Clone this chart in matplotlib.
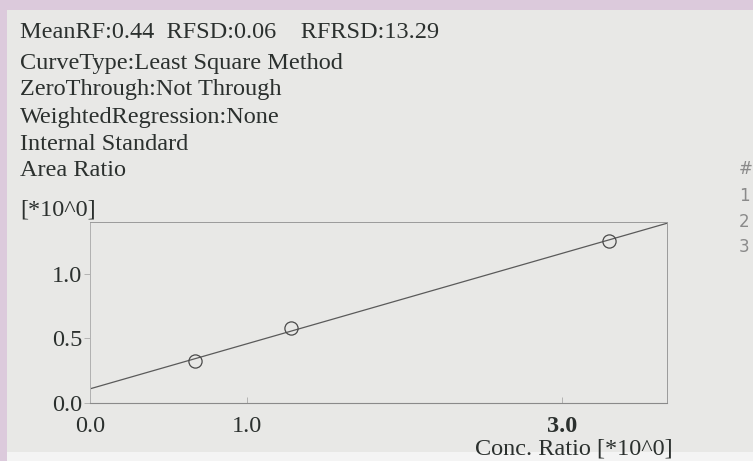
import numpy as np
import matplotlib
matplotlib.use("Agg")
import matplotlib.pyplot as plt
from matplotlib.patches import Rectangle

# ---- data ----
conc_ratio = [0.67, 1.28, 3.30]
area_ratio = [0.326, 0.579, 1.256]
x_ticks = [0.0, 1.0, 3.0]
x_tick_labels = ["0.0", "1.0", "3.0"]
y_ticks = [0.0, 0.5, 1.0]
y_tick_labels = ["0.0", "0.5", "1.0"]
header_lines = [
    "MeanRF:0.44  RFSD:0.06    RFRSD:13.29",
    "CurveType:Least Square Method",
    "ZeroThrough:Not Through",
    "WeightedRegression:None",
    "Internal Standard",
    "Area Ratio",
]
side_labels = ["#", "1", "2", "3"]

W, H = 753, 461
fig = plt.figure(figsize=(W / 100, H / 100), dpi=100)
fig.patch.set_facecolor("#dccadc")

def px(x, y):
    return x / W, 1 - y / H

# paper
fig.patches.append(Rectangle(px(7, 452), (W - 7) / W, (452 - 10) / H,
                             transform=fig.transFigure, facecolor="#e8e8e6",
                             edgecolor="none", zorder=-2))
fig.patches.append(Rectangle(px(7, 461), (W - 7) / W, 9 / H,
                             transform=fig.transFigure, facecolor="#f4f4f4",
                             edgecolor="none", zorder=-2))

serif = "Liberation Serif"
tcol = "#2b302e"
fs = 17.5

ax = fig.add_axes([90 / W, 1 - 403 / H, (667 - 90) / W, (403 - 222) / H])
ax.set_zorder(1)
ax.set_facecolor("none")
ax.set_xlim(0, 3.67)
ax.set_ylim(0, 1.40)

slope, intercept = np.polyfit(conc_ratio, area_ratio, 1)
xs = np.array([0.0, 3.67])
ax.plot(xs, intercept + slope * xs, color="#5a5a5a", lw=0.9, zorder=2)
ax.plot(conc_ratio, area_ratio, linestyle="none", marker="o", markersize=9.5,
        markerfacecolor="none", markeredgecolor="#4a4a4a", markeredgewidth=0.9, zorder=3)

for side in ["top", "right"]:
    ax.spines[side].set_color("#9a9a9a")
    ax.spines[side].set_linestyle((0, (3, 1)))
    ax.spines[side].set_linewidth(0.7)
ax.spines["left"].set_color("#b0b0b0")
ax.spines["left"].set_linewidth(0.7)
ax.spines["bottom"].set_color("#8a8a8a")
ax.spines["bottom"].set_linewidth(0.8)

ax.set_yticks(y_ticks)
ax.set_yticklabels(y_tick_labels, fontfamily=serif, fontsize=fs, color=tcol)
ax.tick_params(axis="y", direction="out", length=4, width=0.6, color="#aaaaaa", pad=1.5)
ax.set_xticks(x_ticks)
ax.set_xticklabels(x_tick_labels, fontfamily=serif, fontsize=fs, color=tcol)
ax.tick_params(axis="x", direction="in", length=4, width=0.6, color="#aaaaaa", pad=9)
for lbl in ax.get_xticklabels():
    if lbl.get_text() == "3.0":
        lbl.set_fontweight("bold")

# header text
ys = [32, 63, 90, 117, 144, 170]
for t, y in zip(header_lines, ys):
    fig.text(*px(20, y), t, fontfamily=serif, fontsize=fs, color=tcol,
             ha="left", va="center")
fig.text(*px(20, 210), "[*10^0]", fontfamily=serif, fontsize=fs, color=tcol,
         ha="left", va="center")
fig.text(*px(673, 449), "Conc. Ratio [*10^0]", fontfamily=serif, fontsize=fs,
         color=tcol, ha="right", va="center")

for t, y in zip(side_labels, [169, 196, 222, 247]):
    fig.text(*px(739, y), t, fontfamily="DejaVu Sans", fontsize=12,
             color="#8a8a8a", ha="left", va="center")

fig.savefig("out.png", dpi=100, facecolor=fig.get_facecolor())
